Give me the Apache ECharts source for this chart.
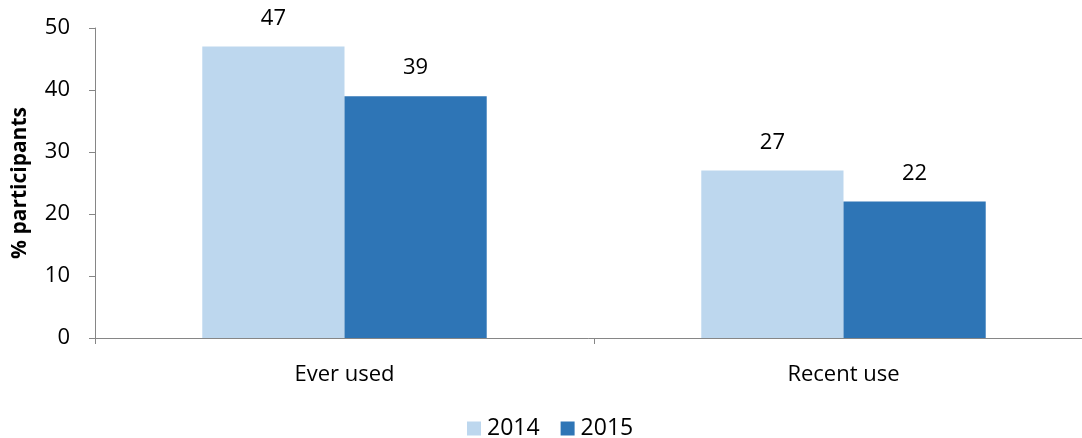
<!DOCTYPE html>
<html>
<head>
<meta charset="utf-8">
<script src="https://cdn.jsdelivr.net/npm/echarts@6/dist/echarts.min.js"></script>
<style>
  html, body { margin: 0; padding: 0; background: #fff; }
  #chart { width: 1082px; height: 438px; }
</style>
</head>
<body>
<div id="chart"></div>
<script>
// Share of participants by use type, two survey years
const categories = ['Ever used', 'Recent use'];
const years = ['2014', '2015'];
const values2014 = [47, 27];
const values2015 = [39, 22];
const yTicks = { min: 0, max: 50, interval: 10 };

const font = 'Open Sans, Liberation Sans, sans-serif';
const colors = ['#BDD7EE', '#2E75B6'];

const chart = echarts.init(document.getElementById('chart'));

const labelStyle = {
  show: true,
  position: 'top',
  distance: 17,
  color: '#000',
  fontFamily: font,
  fontSize: 22
};

chart.setOption({
  animation: false,
  grid: {
    left: 95, right: -11, top: 28, bottom: 100,
    containLabel: false,
    outerBoundsMode: 'none'
  },
  legend: {
    bottom: -7,
    left: 462,
    itemWidth: 14,
    itemHeight: 14,
    itemGap: 21,
    icon: 'rect',
    textStyle: { fontFamily: font, fontSize: 23, color: '#000', padding: [0, 0, 0, 1] },
    data: years
  },
  xAxis: {
    type: 'category',
    data: categories,
    axisLine: { lineStyle: { color: '#868686', width: 1 } },
    axisTick: { show: true, length: 6, lineStyle: { color: '#868686' } },
    axisLabel: { color: '#000', fontFamily: font, fontSize: 22, margin: 26 }
  },
  yAxis: {
    type: 'value',
    min: yTicks.min,
    max: yTicks.max,
    interval: yTicks.interval,
    name: '% participants',
    nameLocation: 'middle',
    nameGap: 64,
    nameTextStyle: { fontFamily: font, fontSize: 21, fontWeight: 'bold', color: '#000' },
    axisLine: { show: true, lineStyle: { color: '#868686', width: 1 } },
    axisTick: { show: true, length: 6, lineStyle: { color: '#868686' } },
    axisLabel: { color: '#000', fontFamily: font, fontSize: 22, margin: 25 },
    splitLine: { show: false }
  },
  series: [
    {
      name: years[0],
      type: 'bar',
      data: values2014,
      itemStyle: { color: colors[0] },
      barGap: '0%',
      barCategoryGap: '43%',
      label: labelStyle
    },
    {
      name: years[1],
      type: 'bar',
      data: values2015,
      itemStyle: { color: colors[1] },
      barGap: '0%',
      barCategoryGap: '43%',
      label: labelStyle
    }
  ]
});
</script>
</body>
</html>
